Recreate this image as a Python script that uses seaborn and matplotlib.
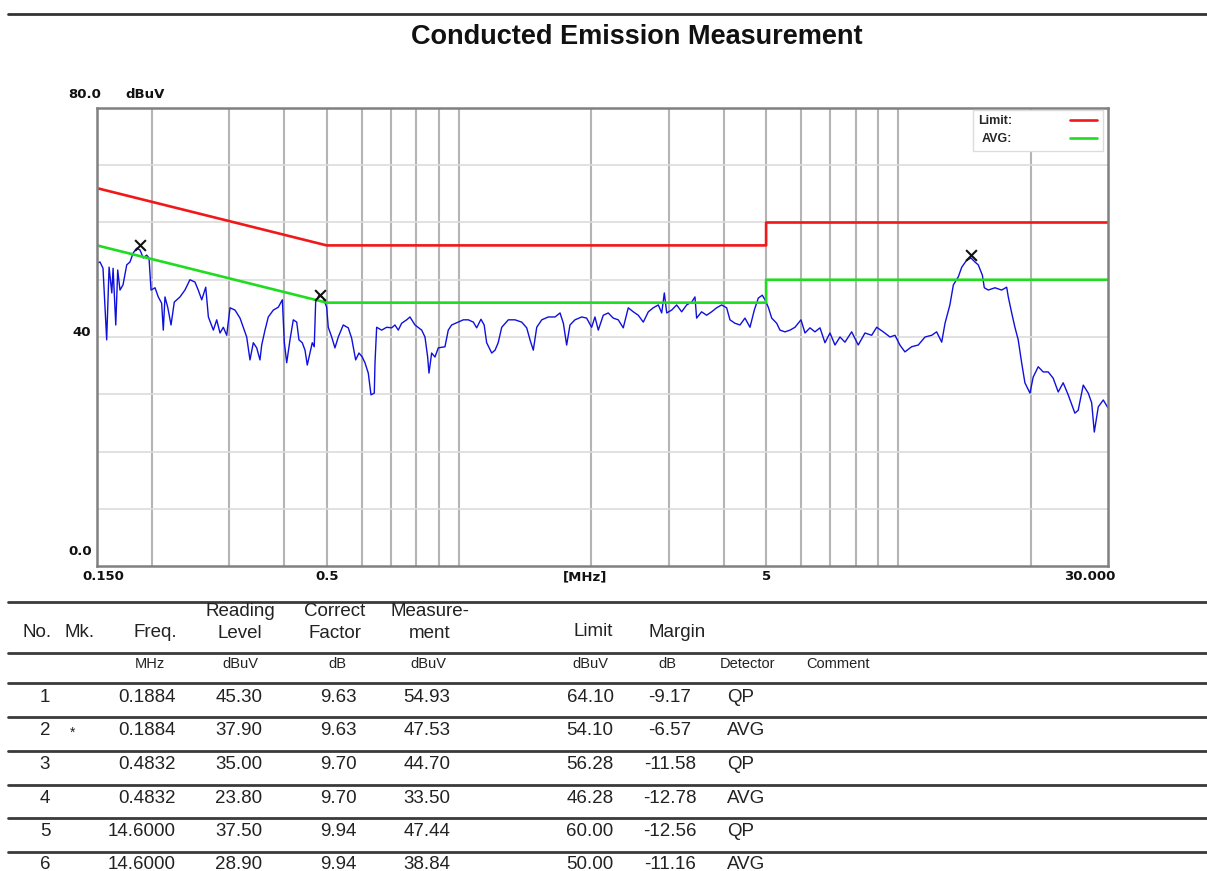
import seaborn as sns
import matplotlib.pyplot as plt
from matplotlib.lines import Line2D
from matplotlib.ticker import NullLocator

# Scan trace (MHz, dBuV)
trace_freq = [
    0.150, 0.1524, 0.1548, 0.1578, 0.1598, 0.1621, 0.1632, 0.1655, 0.1672, 0.1692,
    0.1719, 0.1753, 0.1783, 0.1814, 0.1847, 0.1879, 0.1912, 0.1946, 0.1970, 0.1991,
    0.2033, 0.2068, 0.2105, 0.2123, 0.2142, 0.2173, 0.2211, 0.2249, 0.2317, 0.2378,
    0.2441, 0.2506, 0.2550, 0.2597, 0.2652, 0.2689, 0.2760, 0.2809, 0.2858, 0.2908,
    0.2960, 0.3012, 0.3092, 0.3174, 0.3228, 0.3287, 0.3344, 0.3403, 0.3464, 0.3524,
    0.3556, 0.3618, 0.3681, 0.3779, 0.3879, 0.3962, 0.4004, 0.4054, 0.4124, 0.4196,
    0.4272, 0.4323, 0.4398, 0.4462, 0.4515, 0.4579, 0.4635, 0.4683, 0.4718, 0.4800,
    0.4910, 0.4998, 0.5040, 0.5131, 0.5220, 0.5312, 0.5452, 0.5597, 0.5697, 0.5818,
    0.5920, 0.6024, 0.6109, 0.6216, 0.6305, 0.6415, 0.6439, 0.6495, 0.6668, 0.6845,
    0.7027, 0.7149, 0.7274, 0.7404, 0.7601, 0.7734, 0.7940, 0.8224, 0.8367, 0.8485,
    0.8544, 0.8665, 0.8817, 0.8971, 0.9291, 0.9453, 0.9623, 0.9961, 1.023, 1.050,
    1.078, 1.097, 1.122, 1.141, 1.156, 1.187, 1.208, 1.228, 1.251, 1.295,
    1.341, 1.389, 1.426, 1.451, 1.476, 1.503, 1.543, 1.597, 1.654, 1.698,
    1.728, 1.758, 1.789, 1.836, 1.902, 1.952, 2.004, 2.039, 2.075, 2.130,
    2.186, 2.244, 2.304, 2.365, 2.428, 2.493, 2.559, 2.627, 2.697, 2.768,
    2.842, 2.893, 2.933, 2.970, 3.048, 3.129, 3.212, 3.297, 3.385, 3.444,
    3.474, 3.566, 3.661, 3.758, 3.858, 3.960, 4.066, 4.137, 4.247, 4.360,
    4.476, 4.595, 4.700, 4.800, 4.901, 4.971, 5.058, 5.149, 5.285, 5.377,
    5.520, 5.667, 5.817, 6.003, 6.130, 6.292, 6.459, 6.631, 6.807, 6.988,
    7.174, 7.364, 7.558, 7.829, 8.104, 8.395, 8.695, 8.926, 9.240, 9.570,
    9.824, 10.08, 10.35, 10.72, 11.10, 11.50, 11.91, 12.22, 12.55, 12.77,
    13.10, 13.34, 13.69, 13.94, 14.30, 14.63, 14.94, 15.20, 15.53, 15.69,
    16.02, 16.59, 17.18, 17.64, 17.79, 18.11, 18.42, 18.74, 19.08, 19.41,
    19.93, 20.27, 20.81, 21.36, 21.93, 22.51, 23.11, 23.72, 24.35, 25.22,
    25.66, 26.35, 27.05, 27.54, 27.92, 28.51, 29.27, 30.0,
]
trace_level = [
    52.9, 53.1, 52.0, 39.5, 52.2, 47.7, 52.0, 42.1, 51.7, 48.2,
    49.1, 52.6, 53.1, 54.7, 55.5, 55.2, 53.8, 54.3, 53.8, 48.2,
    48.6, 47.0, 45.9, 41.2, 47.0, 45.2, 42.1, 46.1, 47.0, 48.2,
    50.0, 49.6, 48.2, 46.5, 48.7, 43.5, 41.2, 43.0, 40.7, 41.7,
    40.3, 45.1, 44.7, 43.3, 41.7, 40.0, 36.0, 39.0, 38.1, 36.0,
    38.6, 41.2, 43.5, 44.7, 45.2, 46.5, 39.0, 35.5, 39.5, 43.0,
    42.6, 39.5, 39.0, 37.7, 35.1, 37.2, 39.0, 38.3, 46.1, 47.3,
    46.8, 45.2, 41.7, 40.0, 38.1, 40.0, 42.1, 41.6, 39.8, 36.0,
    37.2, 36.5, 35.5, 33.7, 29.9, 30.2, 35.5, 41.7, 41.2, 41.7,
    41.6, 42.1, 41.2, 42.4, 43.0, 43.5, 42.1, 41.2, 40.0, 36.5,
    33.7, 37.2, 36.5, 38.1, 38.3, 41.2, 42.1, 42.6, 43.0, 43.0,
    42.6, 41.6, 43.1, 42.1, 39.0, 37.2, 37.7, 39.0, 41.7, 43.0,
    43.0, 42.6, 41.6, 39.5, 37.7, 41.7, 43.0, 43.5, 43.5, 44.2,
    42.4, 38.6, 42.1, 43.0, 43.5, 43.3, 41.7, 43.5, 41.2, 43.8,
    44.2, 43.3, 43.0, 41.6, 45.1, 44.4, 43.8, 42.6, 44.4, 45.1,
    45.6, 44.2, 47.7, 44.2, 44.7, 45.6, 44.4, 45.6, 46.1, 47.0,
    43.3, 44.4, 43.8, 44.4, 45.1, 45.6, 45.1, 43.0, 42.4, 42.1,
    43.3, 41.7, 44.7, 46.8, 47.3, 46.5, 45.2, 43.3, 42.4, 41.2,
    40.9, 41.2, 41.7, 43.0, 40.7, 41.6, 40.9, 41.6, 39.0, 40.7,
    38.6, 40.0, 39.1, 40.9, 38.6, 40.7, 40.3, 41.7, 40.9, 40.0,
    40.3, 38.6, 37.4, 38.3, 38.6, 40.0, 40.3, 40.9, 39.1, 42.4,
    45.6, 49.1, 50.5, 52.2, 53.4, 53.8, 53.1, 52.6, 50.8, 48.6,
    48.2, 48.6, 48.2, 48.7, 47.0, 44.2, 41.7, 39.5, 35.5, 32.0,
    30.2, 33.0, 34.8, 33.9, 33.9, 32.8, 30.4, 32.0, 29.9, 26.7,
    27.2, 31.6, 30.2, 28.5, 23.4, 27.8, 29.0, 27.6,
]

# Limit lines
limit_freq = [0.15, 0.5, 5, 5, 30]
qp_limit = [66, 56, 56, 60, 60]
avg_limit = [56, 46, 46, 50, 50]

# Marker positions (x on the trace)
peak_freq = [0.1884, 0.4832, 14.6]
peak_level = [56.1, 47.3, 54.3]

# Result table
row_no = [1, 2, 3, 4, 5, 6]
row_mk = ["", "*", "", "", "", ""]
row_freq = [0.1884, 0.1884, 0.4832, 0.4832, 14.6, 14.6]
row_reading = [45.30, 37.90, 35.00, 23.80, 37.50, 28.90]
row_factor = [9.63, 9.63, 9.70, 9.70, 9.94, 9.94]
row_measure = [54.93, 47.53, 44.70, 33.50, 47.44, 38.84]
row_limit = [64.10, 54.10, 56.28, 46.28, 60.00, 50.00]
row_margin = [-9.17, -6.57, -11.58, -12.78, -12.56, -11.16]
row_detector = ["QP", "AVG", "QP", "AVG", "QP", "AVG"]

grid_freq = [0.2, 0.3, 0.4, 0.5, 0.6, 0.7, 0.8, 0.9, 1, 2, 3, 4, 5, 6, 7, 8, 9, 10, 20]

sns.set_style("white")
plt.rcParams["font.family"] = ["Liberation Sans", "DejaVu Sans"]

W, H = 1207, 871


def fx(px):
    return px / W


def fy(py):
    return 1 - py / H


fig = plt.figure(figsize=(W / 100, H / 100), dpi=100)
ax = fig.add_axes([fx(97), fy(566), (1108 - 97) / W, (566 - 108) / H])

sns.lineplot(x=trace_freq, y=trace_level, ax=ax, color="#1010dc", lw=1.0,
             estimator=None, sort=False)
sns.lineplot(x=limit_freq, y=qp_limit, ax=ax, color="#f01818", lw=1.9,
             estimator=None, sort=False, label="Limit:")
sns.lineplot(x=limit_freq, y=avg_limit, ax=ax, color="#20dc20", lw=1.9,
             estimator=None, sort=False, label="AVG:")
sns.scatterplot(x=peak_freq, y=peak_level, ax=ax, marker="x", color="#111111",
                s=60, linewidth=1.5, zorder=5)

ax.set_xscale("log")
ax.set_xlim(0.15, 30)
ax.set_ylim(0, 80)
ax.set_xticks(grid_freq)
ax.xaxis.set_minor_locator(NullLocator())
ax.set_yticks(range(10, 80, 10))
ax.tick_params(length=0, labelbottom=False, labelleft=False)
ax.set_xlabel("")
ax.set_ylabel("")
ax.grid(axis="x", color="#b4b4b4", lw=1.5)
ax.grid(axis="y", color="#dcdcdc", lw=1.2)
ax.set_axisbelow(True)
for s in ax.spines.values():
    s.set_color("#808080")
    s.set_linewidth(1.8)

handles, labels = ax.get_legend_handles_labels()
ax.legend(handles, labels, loc="upper right", bbox_to_anchor=(0.995, 0.996),
          borderaxespad=0, markerfirst=False, fancybox=False, framealpha=1,
          edgecolor="#dcdcdc", handlelength=2.2, handletextpad=4.6,
          borderpad=0.45, labelspacing=0.45,
          prop={"family": "Liberation Sans", "weight": "bold", "size": 9})

# axis labels as drawn by the receiver software
lab = dict(family="DejaVu Sans", weight="bold", fontsize=9.5, va="center", color="#111111")
fig.text(fx(85), fy(95), "80.0", ha="center", **lab)
fig.text(fx(145), fy(95), "dBuV", ha="center", **lab)
fig.text(fx(82), fy(333), "40", ha="center", **lab)
fig.text(fx(80), fy(551), "0.0", ha="center", **lab)
fig.text(fx(103), fy(577), "0.150", ha="center", **lab)
fig.text(fx(585), fy(577), "[MHz]", ha="center", **lab)
fig.text(fx(1090), fy(577), "30.000", ha="center", **lab)
xt = ax.get_xaxis_transform()
ax.text(0.5, -0.024, "0.5", transform=xt, ha="center", **lab)
ax.text(5, -0.024, "5", transform=xt, ha="center", **lab)

# title
fig.add_artist(Line2D([fx(8), 1], [fy(14), fy(14)], color="#333333", lw=2))
fig.text(fx(637), fy(37), "Conducted Emission Measurement", ha="center",
         va="center", fontsize=19.5, weight="bold", color="#111111")

# table
for y in [602, 653, 683, 717, 751, 785, 818, 852]:
    fig.add_artist(Line2D([fx(8), 1], [fy(y), fy(y)], color="#3a3a3a", lw=2))

hd = dict(fontsize=13.5, va="center", color="#222222")
fig.text(fx(37), fy(632), "No.", ha="center", **hd)
fig.text(fx(80), fy(632), "Mk.", ha="center", **hd)
fig.text(fx(177), fy(632), "Freq.", ha="right", **hd)
for cx, top, bot in [(240, "Reading", "Level"), (335, "Correct", "Factor"),
                     (430, "Measure-", "ment")]:
    fig.text(fx(cx), fy(612), top, ha="center", **hd)
    fig.text(fx(cx), fy(633), bot, ha="center", **hd)
fig.text(fx(593), fy(631), "Limit", ha="center", **hd)
fig.text(fx(677), fy(632), "Margin", ha="center", **hd)

un = dict(fontsize=10.5, va="center", ha="center", color="#222222")
for cx, u in [(150, "MHz"), (240, "dBuV"), (337, "dB"), (428, "dBuV"),
              (590, "dBuV"), (667, "dB"), (748, "Detector"), (838, "Comment")]:
    fig.text(fx(cx), fy(664), u, **un)

rd = dict(fontsize=13.5, va="center", color="#222222")
row_y = [697, 730, 764, 798, 831, 864]
for i, y in enumerate(row_y):
    fig.text(fx(45), fy(y), str(row_no[i]), ha="center", **rd)
    fig.text(fx(73), fy(y + 3), row_mk[i], ha="center", fontsize=10,
             va="center", color="#222222")
    fig.text(fx(176), fy(y), f"{row_freq[i]:.4f}", ha="right", **rd)
    fig.text(fx(239), fy(y), f"{row_reading[i]:.2f}", ha="center", **rd)
    fig.text(fx(338), fy(y), f"{row_factor[i]:.2f}", ha="center", **rd)
    fig.text(fx(427), fy(y), f"{row_measure[i]:.2f}", ha="center", **rd)
    fig.text(fx(590), fy(y), f"{row_limit[i]:.2f}", ha="center", **rd)
    fig.text(fx(670), fy(y), f"{row_margin[i]:.2f}", ha="center", **rd)
    fig.text(fx(727), fy(y), row_detector[i], ha="left", **rd)

plt.savefig("out.png", dpi=100)
